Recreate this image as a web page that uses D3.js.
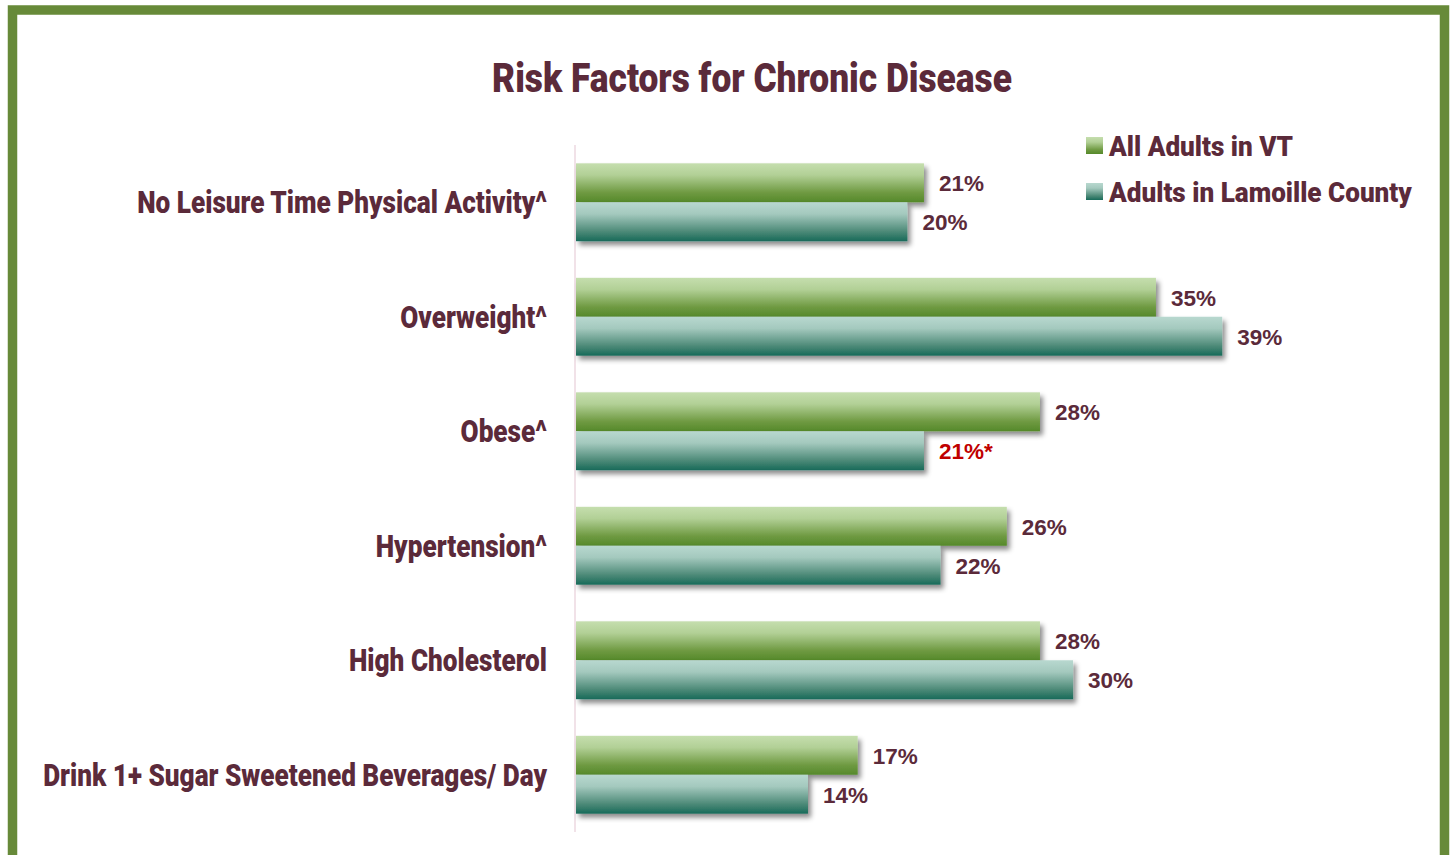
<!DOCTYPE html>
<html>
<head>
<meta charset="utf-8">
<script src="https://cdn.jsdelivr.net/npm/d3@7"></script>
<style>
  html, body { margin: 0; padding: 0; background: #fff; }
  svg { display: block; }
  .cond { font-family: Roboto, "Liberation Sans", sans-serif; font-weight: 900; }
  .val { font-family: "Liberation Sans", Arial, sans-serif; font-weight: bold; }
</style>
</head>
<body>
<svg id="chart" width="1452" height="855"></svg>
<script>
const title = "Risk Factors for Chronic Disease";
const categories = [
  "No Leisure Time Physical Activity^",
  "Overweight^",
  "Obese^",
  "Hypertension^",
  "High Cholesterol",
  "Drink 1+ Sugar Sweetened Beverages/ Day"
];
const seriesNames = ["All Adults in VT", "Adults in Lamoille County"];
const allAdultsVT = [21, 35, 28, 26, 28, 17];
const lamoilleAdults = [20, 39, 21, 22, 30, 14];
const lamoilleSignificant = [false, false, true, false, false, false];

const W = 1452, H = 855;
const maroon = "#5b2a3a";
const svg = d3.select("#chart");
const defs = svg.append("defs");

function grad(id, stops) {
  const g = defs.append("linearGradient").attr("id", id)
    .attr("x1", 0).attr("y1", 0).attr("x2", 0).attr("y2", 1);
  stops.forEach(s => g.append("stop").attr("offset", s[0]).attr("stop-color", s[1]));
}
grad("gGreen", [[0, "#c5deae"], [0.3, "#b2d096"], [0.75, "#6f9a42"], [1, "#55892a"]]);
grad("gTeal", [[0, "#b8d8cf"], [0.3, "#a4c9be"], [0.75, "#4d8a78"], [1, "#176a59"]]);

const f = defs.append("filter").attr("id", "shadow")
  .attr("x", "-5%").attr("y", "-30%").attr("width", "115%").attr("height", "180%");
f.append("feDropShadow").attr("dx", 3).attr("dy", 4).attr("stdDeviation", 2.5)
  .attr("flood-color", "#000").attr("flood-opacity", 0.45);

// border
svg.append("rect").attr("x", 12.5).attr("y", 10).attr("width", 1432).attr("height", 1000)
  .attr("fill", "#fff").attr("stroke", "#678a39").attr("stroke-width", 9.5);

// condensed-text helper: horizontal compression to mimic a condensed face
function fitFactor(txt, size, target) {
  const t = svg.append("text").attr("class", "cond").attr("font-size", size).text(txt);
  const k = target / t.node().getComputedTextLength();
  t.remove();
  return k;
}
function condText(sel, x, y, size, anchor, txt, k) {
  return sel.append("text").attr("class", "cond")
    .attr("transform", `translate(${x},${y}) scale(${k},1)`)
    .attr("text-anchor", anchor).attr("font-size", size).attr("fill", maroon)
    .text(txt);
}
const kLabel = fitFactor(categories[0], 32, 410);
const kTitle = fitFactor(title, 40, 520);
const kLegend = fitFactor(seriesNames[1], 28, 303);

// title
condText(svg, 752, 92, 40, "middle", title, kTitle);

// scales
const x = d3.scaleLinear().domain([0, 45]).range([576, 576 + 45 * 16.57]);
const y0 = d3.scaleBand().domain(categories).range([145, 832]).paddingInner(0.32).paddingOuter(0.16);
const y1 = d3.scaleBand().domain(seriesNames).range([0, y0.bandwidth()]);

// axis line
svg.append("line").attr("x1", 575).attr("x2", 575).attr("y1", 145).attr("y2", 832)
  .attr("stroke", "#ecd9e1").attr("stroke-width", 1.5);

const series = [
  { name: seriesNames[0], values: allAdultsVT, fill: "url(#gGreen)", sig: categories.map(() => false) },
  { name: seriesNames[1], values: lamoilleAdults, fill: "url(#gTeal)", sig: lamoilleSignificant }
];

series.forEach(s => {
  svg.append("g").selectAll("rect").data(categories).join("rect")
    .attr("x", x(0))
    .attr("y", c => y0(c) + y1(s.name))
    .attr("width", (c, i) => x(s.values[i]) - x(0))
    .attr("height", y1.bandwidth())
    .attr("fill", s.fill)
    .attr("filter", "url(#shadow)");
});

series.forEach(s => {
  svg.append("g").selectAll("text").data(categories).join("text")
    .attr("class", "val")
    .attr("x", (c, i) => x(s.values[i]) + 15)
    .attr("y", c => y0(c) + y1(s.name) + y1.bandwidth() / 2 + 8.5)
    .attr("font-size", 22.5)
    .attr("fill", (c, i) => s.sig[i] ? "#c00000" : maroon)
    .text((c, i) => s.values[i] + "%" + (s.sig[i] ? "*" : ""));
});

// category labels
const catG = svg.append("g");
categories.forEach(c => condText(catG, 547, y0(c) + y0.bandwidth() / 2 + 11, 32, "end", c, kLabel));

// legend
const leg = svg.append("g");
series.forEach((s, i) => {
  const ly = 137 + i * 46;
  leg.append("rect").attr("x", 1086).attr("y", ly).attr("width", 17).attr("height", 17).attr("fill", s.fill);
  condText(leg, 1109, ly + 19, 28, "start", s.name, kLegend);
});
</script>
</body>
</html>
